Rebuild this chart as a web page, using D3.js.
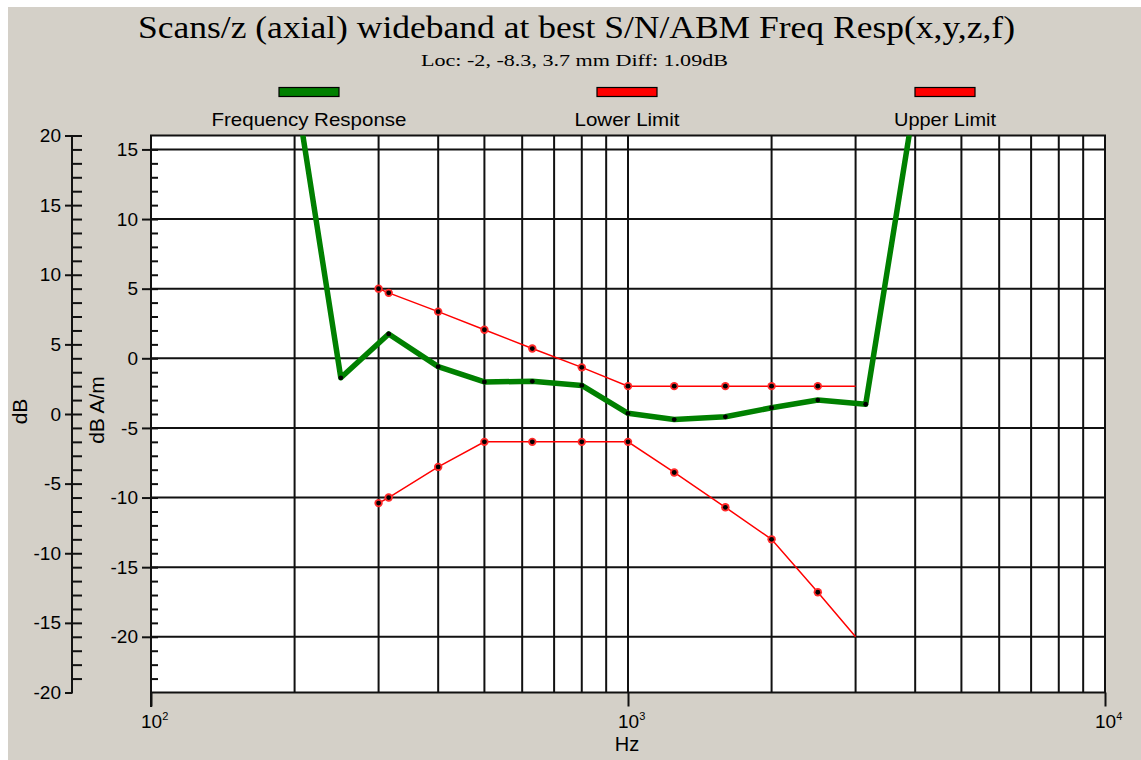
<!DOCTYPE html>
<html><head><meta charset="utf-8">
<script src="https://cdn.jsdelivr.net/npm/d3@7"></script>
<style>
html,body{margin:0;padding:0;background:#fff;}
svg{display:block;}
text{font-family:"Liberation Sans",Arial,sans-serif;fill:#000;}
</style></head>
<body>
<svg id="chart" width="1141" height="760"></svg>
<script>
// ---- data ----
const titleText = "Scans/z (axial) wideband at best S/N/ABM Freq Resp(x,y,z,f)";
const subtitleText = "Loc: -2, -8.3, 3.7 mm Diff: 1.09dB";
const seriesNames = ["Frequency Response", "Lower Limit", "Upper Limit"];
const freqFR = [200, 250, 315, 400, 500, 630, 800, 1000, 1250, 1600, 2000, 2500, 3150, 4000];
const valFR  = [19.8, -1.4, 1.75, -0.6, -1.7, -1.65, -1.95, -3.95, -4.4, -4.2, -3.55, -3.0, -3.3, 18.7];
const freqLim = [300, 315, 400, 500, 630, 800, 1000, 1250, 1600, 2000, 2500, 3000];
const valLower = [-10.4, -10.0, -7.8, -6, -6, -6, -6, -8.2, -10.7, -13.0, -16.8, -20];
const valUpper = [5, 4.7, 3.35, 2.05, 0.7, -0.65, -2, -2, -2, -2, -2, -2];
const innerTicks = [-20, -15, -10, -5, 0, 5, 10, 15];
const outerTicks = [-20, -15, -10, -5, 0, 5, 10, 15, 20];
const decadeTicks = [100, 1000, 10000];
const decadeExp = ["2", "3", "4"];

// ---- layout ----
const svg = d3.select("#chart");
const L = 151, R = 1105, T = 135.5, B = 692.5;
svg.append("rect").attr("x", 8).attr("y", 7).attr("width", 1141 - 8).attr("height", 760 - 7).attr("fill", "#d4d0c8");

const x = d3.scaleLog().domain([100, 10000]).range([L, R]);
const y = d3.scaleLinear().domain([-24, 16]).range([B, T]);
const yOuter = d3.scaleLinear().domain([-20, 20]).range([B, T]);
const fmt = d => String(d);

// title
svg.append("text").attr("x", 576.5).attr("y", 38).attr("text-anchor", "middle")
  .style("font-family", "'Liberation Serif','Times New Roman',serif").style("font-size", "32px")
  .attr("textLength", 877).attr("lengthAdjust", "spacingAndGlyphs").text(titleText);
svg.append("text").attr("x", 574.5).attr("y", 66).attr("text-anchor", "middle")
  .style("font-family", "'Liberation Serif','Times New Roman',serif").style("font-size", "16px")
  .attr("textLength", 307).attr("lengthAdjust", "spacingAndGlyphs").text(subtitleText);

// legend
const legColors = ["#008000", "#ff0000", "#ff0000"];
const legCx = [309, 627, 945];
const legW = [195, 105, 102];
seriesNames.forEach((n, i) => {
  svg.append("rect").attr("x", legCx[i] - 30).attr("y", 87.5).attr("width", 60).attr("height", 9)
    .attr("fill", legColors[i]).attr("stroke", "#000").attr("stroke-width", 1.2);
  svg.append("text").attr("x", legCx[i]).attr("y", 126).attr("text-anchor", "middle")
    .style("font-size", "19px").attr("textLength", legW[i]).attr("lengthAdjust", "spacingAndGlyphs").text(n);
});

// plot background
svg.append("rect").attr("x", L).attr("y", T).attr("width", R - L).attr("height", B - T).attr("fill", "#fff");

// grid
const gridX = [];
[100, 1000].forEach(d => { for (let k = 2; k <= 9; k++) gridX.push(d * k); });
gridX.push(1000);
const grid = svg.append("g").attr("stroke", "#111").attr("stroke-width", 2);
grid.selectAll("line.v").data(gridX).join("line").attr("class", "v")
  .attr("x1", d => x(d)).attr("x2", d => x(d)).attr("y1", T).attr("y2", B);
grid.selectAll("line.h").data(innerTicks).join("line").attr("class", "h")
  .attr("x1", L).attr("x2", R).attr("y1", d => y(d)).attr("y2", d => y(d));
svg.append("rect").attr("x", L).attr("y", T).attr("width", R - L).attr("height", B - T)
  .attr("fill", "none").attr("stroke", "#111").attr("stroke-width", 2);

// clip
svg.append("clipPath").attr("id", "clip").append("rect").attr("x", L).attr("y", T).attr("width", R - L).attr("height", B - T);
const plot = svg.append("g").attr("clip-path", "url(#clip)");

const line = d3.line().x(d => x(d[0])).y(d => y(d[1]));
const lower = freqLim.map((f, i) => [f, valLower[i]]);
const upper = freqLim.map((f, i) => [f, valUpper[i]]);
const fr = freqFR.map((f, i) => [f, valFR[i]]);

plot.append("path").datum(lower).attr("d", line).attr("fill", "none").attr("stroke", "#ff0000").attr("stroke-width", 1.5);
plot.append("path").datum(upper).attr("d", line).attr("fill", "none").attr("stroke", "#ff0000").attr("stroke-width", 1.5);
plot.append("path").datum(fr).attr("d", line).attr("fill", "none").attr("stroke", "#008000").attr("stroke-width", 5.5).attr("stroke-linejoin", "round");

// markers
[lower, upper].forEach(s => {
  const pts = s.slice(0, -1);
  plot.selectAll(null).data(pts).join("circle").attr("cx", d => x(d[0])).attr("cy", d => y(d[1])).attr("r", 4.2).attr("fill", "#ff2a2a");
  plot.selectAll(null).data(pts).join("circle").attr("cx", d => x(d[0])).attr("cy", d => y(d[1])).attr("r", 2.4).attr("fill", "#000");
});
plot.selectAll(null).data(fr.slice(1, -1)).join("circle").attr("cx", d => x(d[0])).attr("cy", d => y(d[1])).attr("r", 2.4).attr("fill", "#000");

// inner axis
const innerAxis = svg.append("g").attr("transform", `translate(${L},0)`);
innerAxis.call(d3.axisLeft(y).tickValues(innerTicks).tickSize(9).tickPadding(4).tickSizeOuter(0).tickFormat(fmt));
innerAxis.select(".domain").remove();
innerAxis.selectAll("line").attr("stroke", "#111").attr("stroke-width", 2);
innerAxis.selectAll("text").style("font-size", "19px").attr("fill", "#000").style("font-family", "'Liberation Sans',Arial,sans-serif");
const innerMinor = svg.append("g").attr("transform", `translate(${L},0)`);
innerMinor.call(d3.axisRight(y).tickValues(d3.range(-23, 16)).tickSize(7).tickFormat("").tickSizeOuter(0));
innerMinor.select(".domain").remove();
innerMinor.selectAll("line").attr("stroke", "#111").attr("stroke-width", 2);
svg.append("line").attr("x1", L).attr("x2", L).attr("y1", T).attr("y2", 707).attr("stroke", "#111").attr("stroke-width", 2);

// outer axis
const OX = 72;
const outerAxis = svg.append("g").attr("transform", `translate(${OX},0)`);
outerAxis.call(d3.axisLeft(yOuter).tickValues(outerTicks).tickSize(7).tickPadding(4).tickSizeOuter(0).tickFormat(fmt));
outerAxis.select(".domain").remove();
outerAxis.selectAll("line").attr("stroke", "#111").attr("stroke-width", 2);
outerAxis.selectAll("text").style("font-size", "19px").attr("fill", "#000").style("font-family", "'Liberation Sans',Arial,sans-serif");
const outerMinor = svg.append("g").attr("transform", `translate(${OX},0)`);
outerMinor.call(d3.axisRight(yOuter).tickValues(d3.range(-19, 21)).tickSize(10).tickFormat("").tickSizeOuter(0));
outerMinor.select(".domain").remove();
outerMinor.selectAll("line").attr("stroke", "#111").attr("stroke-width", 2);
svg.append("line").attr("x1", OX).attr("x2", OX).attr("y1", T).attr("y2", B + 1).attr("stroke", "#111").attr("stroke-width", 2);

// x axis
const xAxis = svg.append("g").attr("transform", `translate(0,${B})`);
xAxis.call(d3.axisBottom(x).tickValues(decadeTicks).tickSize(14).tickFormat("").tickSizeOuter(0));
xAxis.select(".domain").remove();
xAxis.selectAll("line").attr("stroke", "#111").attr("stroke-width", 2);
decadeTicks.forEach((d, i) => {
  const t = svg.append("text").attr("x", x(d) - 10).attr("y", 728).style("font-size", "19px");
  t.append("tspan").text("10");
  t.append("tspan").attr("dy", -8).style("font-size", "11px").text(decadeExp[i]);
});

// axis titles
svg.append("text").attr("x", 627).attr("y", 751).attr("text-anchor", "middle").style("font-size", "20px").text("Hz");
svg.append("text").attr("transform", "translate(27,411.5) rotate(-90)").attr("text-anchor", "middle").style("font-size", "21px").text("dB");
svg.append("text").attr("transform", "translate(104,410) rotate(-90)").attr("text-anchor", "middle").style("font-size", "21px").text("dB A/m");
</script>
</body></html>
